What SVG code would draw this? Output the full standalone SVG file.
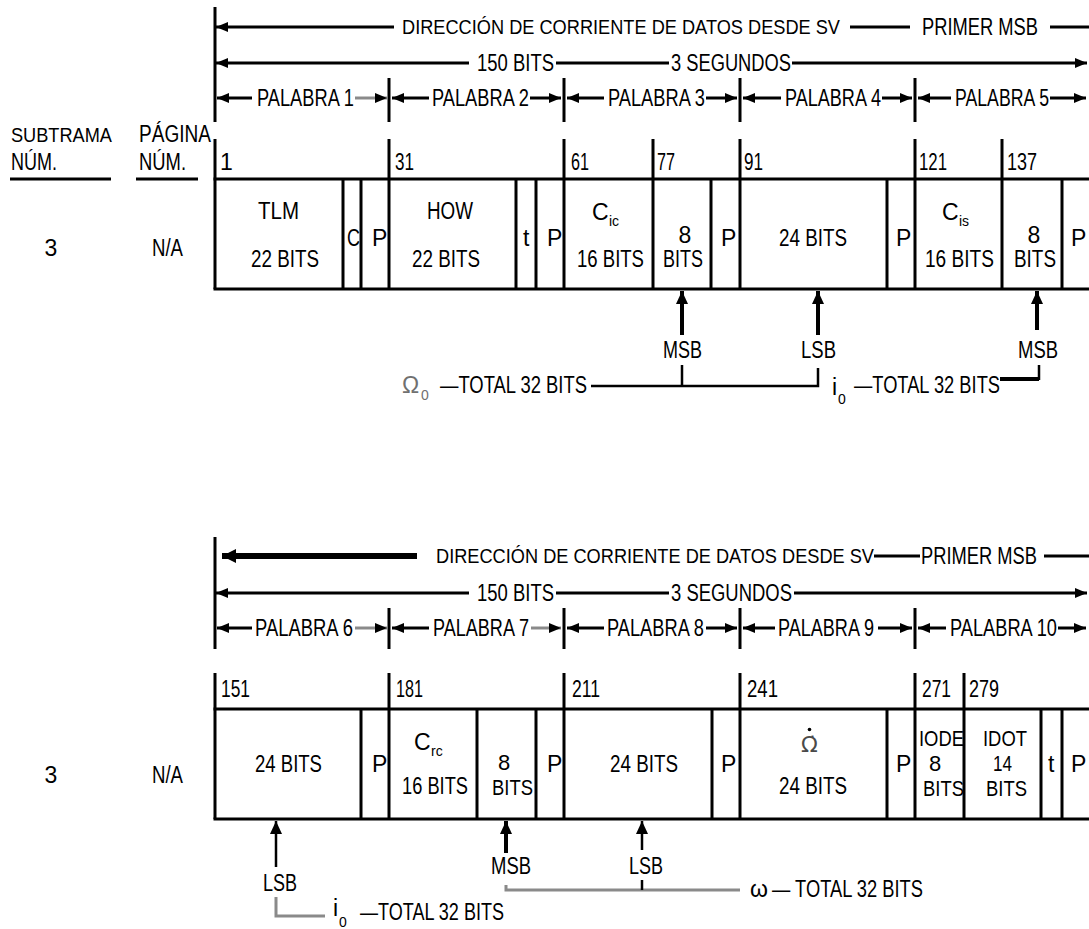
<svg xmlns="http://www.w3.org/2000/svg" width="1089" height="929" viewBox="0 0 1089 929">
<style>
text{font-family:"Liberation Sans",Arial,sans-serif;font-size:23px;fill:#000}
.s{font-size:14px}
.m{text-anchor:middle}
.hd{font-size:20px}
.lb{font-size:21px}
.c2{font-size:22px}
.ln{stroke:#000;stroke-width:3;fill:none}
.thin{stroke:#000;stroke-width:2.5;fill:none}
.thk{stroke:#000;stroke-width:4;fill:none}
.gr{stroke:#8a8a8a;stroke-width:3;fill:none}
.ar{marker-end:url(#ah)}
.av{marker-end:url(#ahv)}
</style>
<defs>
<marker id="ah" viewBox="0 0 12 10" refX="12" refY="5" markerWidth="12" markerHeight="10" markerUnits="userSpaceOnUse" orient="auto"><path d="M0,0 L12,5 L0,10 z" fill="#000"/></marker>
<marker id="ahv" viewBox="0 0 13 12" refX="13" refY="6" markerWidth="13" markerHeight="12" markerUnits="userSpaceOnUse" orient="auto"><path d="M0,0 L13,6 L0,12 z" fill="#000"/></marker>
<marker id="ahb" viewBox="0 0 12 12" refX="12" refY="6" markerWidth="14" markerHeight="14" markerUnits="userSpaceOnUse" orient="auto"><path d="M0,0 L12,6 L0,12 z" fill="#000"/></marker>
</defs>

<g id="labels-left">
<text x="11" y="142" class="lb" textLength="101" lengthAdjust="spacingAndGlyphs">SUBTRAMA</text>
<text x="11" y="170" textLength="46" lengthAdjust="spacingAndGlyphs">NÚM.</text>
<text x="139" y="142" textLength="72" lengthAdjust="spacingAndGlyphs">PÁGINA</text>
<text x="139" y="170" textLength="47" lengthAdjust="spacingAndGlyphs">NÚM.</text>
<path class="ln" d="M10,179 H111 M136,179 H198"/>
<text x="51" y="256" class="m">3</text>
<text x="152" y="256" textLength="31" lengthAdjust="spacingAndGlyphs">N/A</text>
<text x="51" y="783" class="m">3</text>
<text x="152" y="783" textLength="31" lengthAdjust="spacingAndGlyphs">N/A</text>
</g>

<g id="header-top">
<path class="ln" d="M215,7 V122 M389,78 V122 M564,78 V122 M740,78 V122 M915,78 V122"/>
<path class="ln ar" d="M394,27 H216"/>
<text x="402" y="34" class="hd" textLength="438" lengthAdjust="spacingAndGlyphs">DIRECCIÓN DE CORRIENTE DE DATOS DESDE SV</text>
<path class="ln" d="M850,27 H910 M1050,27 H1089"/>
<text x="922" y="35" textLength="116" lengthAdjust="spacingAndGlyphs">PRIMER MSB</text>
<path class="ln ar" d="M469,63 H216"/>
<text x="477" y="71" textLength="77" lengthAdjust="spacingAndGlyphs">150 BITS</text>
<path class="ln" d="M556,63 H669"/>
<text x="671" y="71" textLength="120" lengthAdjust="spacingAndGlyphs">3 SEGUNDOS</text>
<path class="ln ar" d="M792,63 H1087"/>
<path class="ln ar" d="M252,98 H217"/>
<text x="257" y="106" textLength="97" lengthAdjust="spacingAndGlyphs">PALABRA 1</text>
<path class="gr ar" d="M355,98 H387"/>
<path class="ln ar" d="M429,98 H392"/>
<text x="432" y="106" textLength="97" lengthAdjust="spacingAndGlyphs">PALABRA 2</text>
<path class="ln ar" d="M530,98 H561"/>
<path class="ln ar" d="M604,98 H567"/>
<text x="608" y="106" textLength="97" lengthAdjust="spacingAndGlyphs">PALABRA 3</text>
<path class="ln ar" d="M706,98 H737"/>
<path class="ln ar" d="M781,98 H743"/>
<text x="785" y="106" textLength="96" lengthAdjust="spacingAndGlyphs">PALABRA 4</text>
<path class="ln ar" d="M882,98 H912"/>
<path class="ln ar" d="M951,98 H918"/>
<text x="955" y="106" textLength="94" lengthAdjust="spacingAndGlyphs">PALABRA 5</text>
<path class="ln ar" d="M1050,98 H1086"/>
</g>

<g id="table-top">
<path class="ln" d="M215,139 V289 M389,139 V179 M564,139 V179 M653,139 V179 M740,139 V179 M915,139 V179 M1002,139 V179"/>
<text x="220" y="170">1</text>
<text x="395" y="170" textLength="19" lengthAdjust="spacingAndGlyphs">31</text>
<text x="571" y="170" textLength="18" lengthAdjust="spacingAndGlyphs">61</text>
<text x="657" y="170" textLength="18" lengthAdjust="spacingAndGlyphs">77</text>
<text x="744" y="170" textLength="19" lengthAdjust="spacingAndGlyphs">91</text>
<text x="919" y="170" textLength="28" lengthAdjust="spacingAndGlyphs">121</text>
<text x="1007" y="170" textLength="30" lengthAdjust="spacingAndGlyphs">137</text>
<path class="ln" d="M213.5,179 H1089 M213.5,289 H1089"/>
<path class="ln" d="M343,179 V289 M361,179 V289 M389,179 V289 M516,179 V289 M536,179 V289 M564,179 V289 M653,179 V289 M711,179 V289 M740,179 V289 M887,179 V289 M915,179 V289 M1002,179 V289 M1062,179 V289"/>
<g id="cell-tlm"><text x="258" y="219" textLength="41" lengthAdjust="spacingAndGlyphs">TLM</text><text x="251" y="267" textLength="68" lengthAdjust="spacingAndGlyphs">22 BITS</text></g>
<g id="cell-c"><text x="347" y="246" textLength="13" lengthAdjust="spacingAndGlyphs">C</text></g>
<g id="cell-p1"><text x="372" y="246">P</text></g>
<g id="cell-how"><text x="427" y="219" textLength="46" lengthAdjust="spacingAndGlyphs">HOW</text><text x="412" y="267" textLength="68" lengthAdjust="spacingAndGlyphs">22 BITS</text></g>
<g id="cell-t1"><text x="523" y="246">t</text></g>
<g id="cell-p2"><text x="547" y="246">P</text></g>
<g id="cell-cic"><text x="592" y="220">C</text><text x="609" y="226" class="s">ic</text><text x="577" y="267" textLength="67" lengthAdjust="spacingAndGlyphs">16 BITS</text></g>
<g id="cell-om0msb"><text x="685" y="243" class="m">8</text><text x="663" y="267" textLength="40" lengthAdjust="spacingAndGlyphs">BITS</text></g>
<g id="cell-p3"><text x="721" y="246">P</text></g>
<g id="cell-om0lsb"><text x="779" y="246" textLength="68" lengthAdjust="spacingAndGlyphs">24 BITS</text></g>
<g id="cell-p4"><text x="896" y="246">P</text></g>
<g id="cell-cis"><text x="942" y="220">C</text><text x="959" y="226" class="s">is</text><text x="925" y="267" textLength="69" lengthAdjust="spacingAndGlyphs">16 BITS</text></g>
<g id="cell-i0msb"><text x="1034" y="243" class="m">8</text><text x="1014" y="267" textLength="42" lengthAdjust="spacingAndGlyphs">BITS</text></g>
<g id="cell-p5"><text x="1071" y="246">P</text></g>
</g>

<g id="annot-top">
<text x="663" y="358" textLength="39" lengthAdjust="spacingAndGlyphs">MSB</text>
<text x="801" y="358" textLength="35" lengthAdjust="spacingAndGlyphs">LSB</text>
<text x="1018" y="358" textLength="40" lengthAdjust="spacingAndGlyphs">MSB</text>
<text x="402" y="393" style="fill:#707070">Ω</text><text x="421" y="400" class="s" style="fill:#707070">0</text>
<text x="440" y="393" textLength="147" lengthAdjust="spacingAndGlyphs">—TOTAL 32 BITS</text>
<text x="832" y="395">i</text><text x="838" y="404" class="s">0</text>
<text x="854" y="393" textLength="146" lengthAdjust="spacingAndGlyphs">—TOTAL 32 BITS</text>
</g>

<g id="header-bottom">
<path class="ln" d="M215,537 V649 M389,608 V649 M564,608 V649 M740,608 V649 M915,608 V649"/>
<path d="M417,556 H222" stroke="#000" stroke-width="6" fill="none" marker-end="url(#ahb)"/>
<text x="436" y="563" class="hd" textLength="438" lengthAdjust="spacingAndGlyphs">DIRECCIÓN DE CORRIENTE DE DATOS DESDE SV</text>
<path class="ln" d="M874,556 H920 M1044,556 H1089"/>
<text x="921" y="564" textLength="116" lengthAdjust="spacingAndGlyphs">PRIMER MSB</text>
<path class="ln ar" d="M469,593 H216"/>
<text x="477" y="601" textLength="77" lengthAdjust="spacingAndGlyphs">150 BITS</text>
<path class="ln" d="M556,593 H669"/>
<text x="671" y="601" textLength="121" lengthAdjust="spacingAndGlyphs">3 SEGUNDOS</text>
<path class="ln ar" d="M794,593 H1087"/>
<path class="ln ar" d="M252,628 H217"/>
<text x="255" y="636" textLength="98" lengthAdjust="spacingAndGlyphs">PALABRA 6</text>
<path class="gr ar" d="M355,628 H387"/>
<path class="ln ar" d="M429,628 H392"/>
<text x="433" y="636" textLength="96" lengthAdjust="spacingAndGlyphs">PALABRA 7</text>
<path class="gr ar" d="M531,628 H561"/>
<path class="ln ar" d="M604,628 H567"/>
<text x="607" y="636" textLength="97" lengthAdjust="spacingAndGlyphs">PALABRA 8</text>
<path class="ln ar" d="M706,628 H737"/>
<path class="ln ar" d="M775,628 H743"/>
<text x="778" y="636" textLength="96" lengthAdjust="spacingAndGlyphs">PALABRA 9</text>
<path class="ln ar" d="M878,628 H912"/>
<path class="ln ar" d="M946,628 H918"/>
<text x="950" y="636" textLength="107" lengthAdjust="spacingAndGlyphs">PALABRA 10</text>
<path class="ln ar" d="M1058,628 H1086"/>
</g>

<g id="table-bottom">
<path class="ln" d="M215,673 V819 M389,673 V709 M564,673 V709 M740,673 V709 M915,673 V709 M964,673 V709"/>
<text x="221" y="697" textLength="29" lengthAdjust="spacingAndGlyphs">151</text>
<text x="396" y="697" textLength="27" lengthAdjust="spacingAndGlyphs">181</text>
<text x="572" y="697" textLength="28" lengthAdjust="spacingAndGlyphs">211</text>
<text x="747" y="697" textLength="31" lengthAdjust="spacingAndGlyphs">241</text>
<text x="922" y="697" textLength="29" lengthAdjust="spacingAndGlyphs">271</text>
<text x="969" y="697" textLength="30" lengthAdjust="spacingAndGlyphs">279</text>
<path class="ln" d="M213.5,709 H1089 M213.5,819 H1089"/>
<path class="ln" d="M361,709 V819 M389,709 V819 M477,709 V819 M536,709 V819 M564,709 V819 M712,709 V819 M740,709 V819 M887,709 V819 M915,709 V819 M964,709 V819 M1041,709 V819 M1062,709 V819"/>
<g id="cell-i0lsb"><text x="255" y="772" textLength="67" lengthAdjust="spacingAndGlyphs">24 BITS</text></g>
<g id="cell-p6"><text x="372" y="772">P</text></g>
<g id="cell-crc"><text x="414" y="750">C</text><text x="431" y="756" class="s">rc</text><text x="402" y="794" textLength="66" lengthAdjust="spacingAndGlyphs">16 BITS</text></g>
<g id="cell-wmsb"><text x="504" y="770" class="m c2">8</text><text x="492" y="795" class="c2" textLength="41" lengthAdjust="spacingAndGlyphs">BITS</text></g>
<g id="cell-p7"><text x="547" y="772">P</text></g>
<g id="cell-wlsb"><text x="610" y="772" textLength="68" lengthAdjust="spacingAndGlyphs">24 BITS</text></g>
<g id="cell-p8"><text x="721" y="772">P</text></g>
<g id="cell-omdot"><text x="809.5" y="752" class="m" style="font-family:'DejaVu Sans',sans-serif;font-size:22px;fill:#4a4a4a">Ω̇</text><circle cx="809.5" cy="729.5" r="1.8" fill="#000"/><text x="779" y="794" textLength="68" lengthAdjust="spacingAndGlyphs">24 BITS</text></g>
<g id="cell-p9"><text x="896" y="772">P</text></g>
<g id="cell-iode"><text x="919" y="746" class="c2" textLength="45" lengthAdjust="spacingAndGlyphs">IODE</text><text x="935" y="771" class="m c2">8</text><text x="923" y="796" class="c2" textLength="41" lengthAdjust="spacingAndGlyphs">BITS</text></g>
<g id="cell-idot"><text x="983" y="746" class="c2" textLength="44" lengthAdjust="spacingAndGlyphs">IDOT</text><text x="993" y="771" class="c2" textLength="19" lengthAdjust="spacingAndGlyphs">14</text><text x="986" y="796" class="c2" textLength="41" lengthAdjust="spacingAndGlyphs">BITS</text></g>
<g id="cell-t2"><text x="1048" y="772">t</text></g>
<g id="cell-p10"><text x="1071" y="772">P</text></g>
</g>

<g id="annot-bottom">
<text x="263" y="891" textLength="34" lengthAdjust="spacingAndGlyphs">LSB</text>
<text x="333" y="916">i</text><text x="339" y="927" class="s">0</text>
<text x="360" y="920" textLength="144" lengthAdjust="spacingAndGlyphs">—TOTAL 32 BITS</text>
<text x="491" y="874" textLength="40" lengthAdjust="spacingAndGlyphs">MSB</text>
<text x="629" y="874" textLength="34" lengthAdjust="spacingAndGlyphs">LSB</text>
<text x="750" y="897">ω</text>
<text x="772" y="897" textLength="151" lengthAdjust="spacingAndGlyphs">— TOTAL 32 BITS</text>
</g>

<g id="connectors">
<path class="thk av" d="M682,335 V291"/>
<path class="thk av" d="M818,335 V291"/>
<path class="thk av" d="M1037,330 V291"/>
<path class="thin" d="M591,386 H818 V368 M682,365 V386"/>
<path class="thk" d="M1000,379 H1039"/>
<path class="thin" d="M1039,380 V365"/>
<path class="thin av" d="M276,867 V821"/>
<path class="gr" d="M276,897 V916 H325"/>
<path class="thk av" d="M506,853 V821"/>
<path class="gr" d="M506,885 V890 H740"/>
<path class="thin av" d="M642,850 V821"/>
<path class="thin" d="M642,880 V890"/>
</g>
</svg>
